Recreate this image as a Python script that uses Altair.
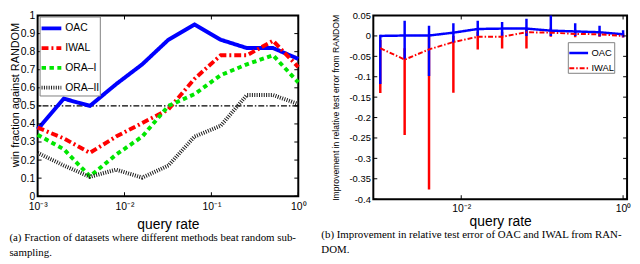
import altair as alt
import pandas as pd

# ---------------- data ----------------
RATES = [0.001, 0.002, 0.004, 0.008, 0.016, 0.032, 0.064, 0.128, 0.256, 0.512, 1.0]

# panel (a): win fraction against RANDOM
METHODS_A = ["OAC", "IWAL", "ORA–I", "ORA–II"]
WIN_OAC = [0.37, 0.54, 0.50, 0.62, 0.73, 0.866, 0.95, 0.866, 0.82, 0.82, 0.76]
WIN_IWAL = [0.38, 0.32, 0.24, 0.33, 0.405, 0.48, 0.65, 0.78, 0.78, 0.86, 0.715]
WIN_ORA1 = [0.34, 0.26, 0.11, 0.23, 0.33, 0.50, 0.565, 0.67, 0.73, 0.78, 0.63]
WIN_ORA2 = [0.24, 0.17, 0.107, 0.147, 0.103, 0.17, 0.33, 0.39, 0.56, 0.56, 0.51]
BASELINE = [0.5]
XTICKS_A = [0.001, 0.01, 0.1, 1.0]
YTICKS_A = [0.0, 0.1, 0.2, 0.3, 0.4, 0.5, 0.6, 0.7, 0.8, 0.9, 1.0]

# panel (b): improvement in relative test error
METHODS_B = ["OAC", "IWAL"]
OAC_MEAN = [0.0, 0.001, 0.001, 0.008, 0.017, 0.018, 0.018, 0.013, 0.011, 0.009, 0.004]
OAC_LO = [-0.118, -0.057, -0.098, -0.016, 0.0, 0.0, 0.0, 0.0, 0.0, -0.001, -0.003]
OAC_HI = [0.003, 0.037, 0.025, 0.031, 0.037, 0.034, 0.042, 0.054, 0.031, 0.025, 0.014]
IWAL_MEAN = [-0.03, -0.058, -0.033, -0.015, -0.002, -0.002, 0.009, 0.008, 0.005, 0.004, 0.0]
IWAL_LO = [-0.14, -0.243, -0.376, -0.139, -0.033, -0.031, -0.031, -0.002, -0.003, -0.002, -0.004]
IWAL_HI = [-0.01, -0.03, 0.0, 0.0, 0.01, 0.01, 0.02, 0.02, 0.015, 0.012, 0.006]
XTICKS_B = [0.01, 1.0]
YTICKS_B = [-0.4, -0.35, -0.3, -0.25, -0.2, -0.15, -0.1, -0.05, 0.0, 0.05]

CAPTION_A = ["(a) Fraction of datasets where different methods beat random sub-", "sampling."]
CAPTION_B = ["(b) Improvement in relative test error of OAC and IWAL from RAN-", "DOM."]

# ---------------- styling ----------------
FONT = "Liberation Sans"
W_A, H_A = 264, 183
W_B, H_B = 257, 186
TK = 4

COLORS_A = ["#0000ff", "#ff0000", "#00e600", "#1a1a1a"]
DASH_A = [[1, 0], [7, 3, 2, 3], [4.5, 3.5], [1, 1.4]]
WIDTH_A = [4, 4, 4, 3]
COLORS_B = ["#0000ff", "#ff0000"]
DASH_B = [[1, 0], [5, 2, 1.5, 2]]

EXP = "'10' + ['\u207b\u00b3','\u207b\u00b2','\u207b\u00b9','\u2070'][round(log(datum.value)/LN10) + 3]"

# ---------------- panel (a) ----------------
rows = []
for name, vals in zip(METHODS_A, [WIN_OAC, WIN_IWAL, WIN_ORA1, WIN_ORA2]):
    for r, v in zip(RATES, vals):
        rows.append({"x": r, "y": v, "m": name})
df_a = pd.DataFrame(rows)

xs_a = alt.Scale(type="log", domain=[0.001, 1.0], nice=False)
ys_a = alt.Scale(domain=[0, 1], nice=False, zero=False)
xax_a = alt.Axis(values=XTICKS_A, labelExpr=EXP, title="query rate", labelFontSize=10.5,
                 labelPadding=5, titleFontSize=14, titlePadding=6, labelFlush=False)
yax_a = alt.Axis(values=YTICKS_A, format="~g", title="win fraction against RANDOM",
                 labelFontSize=10.5, labelPadding=3, titleFontSize=11, titlePadding=0,
                 titleY=80)
X_A = alt.X("x:Q", scale=xs_a, axis=xax_a)
Y_A = alt.Y("y:Q", scale=ys_a, axis=yax_a)

leg_a = alt.Legend(title=None, orient="none", legendX=2, legendY=1, symbolType="stroke",
                   symbolSize=400, symbolStrokeWidth=4, labelFontSize=10.5, labelFont=FONT,
                   labelColor="black", padding=0, rowPadding=-10, labelOffset=2,
                   strokeColor="#808080", fillColor="white")

base_a = alt.Chart(pd.DataFrame({"y": BASELINE})).mark_rule(
    color="black", strokeWidth=1.3, strokeDash=[6, 2, 1.5, 2]).encode(y=Y_A)

lines_a = alt.Chart(df_a).mark_line().encode(
    x=X_A, y=Y_A,
    color=alt.Color("m:N", scale=alt.Scale(domain=METHODS_A, range=COLORS_A), legend=leg_a),
    strokeDash=alt.StrokeDash("m:N", scale=alt.Scale(domain=METHODS_A, range=DASH_A), legend=leg_a),
    strokeWidth=alt.StrokeWidth("m:N", scale=alt.Scale(domain=METHODS_A, range=WIDTH_A), legend=None),
)

xt_a = pd.DataFrame({"x": XTICKS_A})
yt_a = pd.DataFrame({"y": YTICKS_A})
tick = dict(color="black", strokeWidth=1)
ticks_a = [
    alt.Chart(xt_a).mark_rule(**tick).encode(x=X_A, y=alt.value(H_A), y2=alt.value(H_A - TK)),
    alt.Chart(xt_a).mark_rule(**tick).encode(x=X_A, y=alt.value(0), y2=alt.value(TK)),
    alt.Chart(yt_a).mark_rule(**tick).encode(y=Y_A, x=alt.value(0), x2=alt.value(TK)),
    alt.Chart(yt_a).mark_rule(**tick).encode(y=Y_A, x=alt.value(W_A), x2=alt.value(W_A - TK)),
]

panel_a = alt.layer(base_a, lines_a, *ticks_a).properties(
    width=W_A, height=H_A,
    title=alt.Title(CAPTION_A, orient="bottom", anchor="start", frame="bounds",
                    font="Liberation Serif", fontSize=11, fontWeight="normal",
                    color="black", lineHeight=15, offset=1),
)

# ---------------- panel (b) ----------------
rows = []
for name, vals in zip(METHODS_B, [OAC_MEAN, IWAL_MEAN]):
    for r, v in zip(RATES, vals):
        rows.append({"x": r, "y": v, "m": name})
df_b = pd.DataFrame(rows)
bars_oac = pd.DataFrame({"x": RATES, "lo": OAC_LO, "hi": OAC_HI, "m": "OAC"})
bars_iwal = pd.DataFrame({"x": RATES, "lo": IWAL_LO, "hi": IWAL_HI, "m": "IWAL"})

xs_b = alt.Scale(type="log", domain=[0.00082, 1.12], nice=False)
ys_b = alt.Scale(domain=[-0.4, 0.05], nice=False, zero=False)
xax_b = alt.Axis(values=XTICKS_B, labelExpr=EXP, title="query rate", labelFontSize=10.5,
                 labelPadding=4, titleFontSize=14, titlePadding=1, labelFlush=False)
yax_b = alt.Axis(values=YTICKS_B, format="~g", labelExpr="replace(datum.label, '\u2212', '-')",
                 title="Improvement in relative test error from RANDOM",
                 labelFontSize=9.5, labelPadding=3, titleFontSize=8.7, titlePadding=9)
X_B = alt.X("x:Q", scale=xs_b, axis=xax_b)
cs_b = alt.Scale(domain=METHODS_B, range=COLORS_B)
leg_b = alt.Legend(title=None, orient="none", legendX=197, legendY=27, symbolType="stroke",
                   symbolSize=361, symbolStrokeWidth=2.5, labelFontSize=9.5, labelFont=FONT,
                   labelColor="black", padding=0, rowPadding=-11, labelOffset=2,
                   strokeColor="#808080", fillColor="white")

err_iwal = alt.Chart(bars_iwal).mark_rule(strokeWidth=2.5, clip=True).encode(
    x=X_B, y=alt.Y("lo:Q", scale=ys_b, axis=yax_b), y2="hi:Q",
    color=alt.Color("m:N", scale=cs_b, legend=leg_b))
err_oac = alt.Chart(bars_oac).mark_rule(strokeWidth=2.5, clip=True).encode(
    x=X_B, y=alt.Y("lo:Q", scale=ys_b, axis=yax_b), y2="hi:Q",
    color=alt.Color("m:N", scale=cs_b, legend=leg_b))
lines_b = alt.Chart(df_b).mark_line().encode(
    x=X_B, y=alt.Y("y:Q", scale=ys_b, axis=yax_b),
    color=alt.Color("m:N", scale=cs_b, legend=leg_b),
    strokeDash=alt.StrokeDash("m:N", scale=alt.Scale(domain=METHODS_B, range=DASH_B), legend=leg_b),
    strokeWidth=alt.StrokeWidth("m:N", scale=alt.Scale(domain=METHODS_B, range=[2.5, 2]), legend=None),
)

Y_B = alt.Y("y:Q", scale=ys_b, axis=yax_b)
xt_b = pd.DataFrame({"x": XTICKS_B})
yt_b = pd.DataFrame({"y": YTICKS_B})
ticks_b = [
    alt.Chart(xt_b).mark_rule(**tick).encode(x=X_B, y=alt.value(H_B), y2=alt.value(H_B - TK)),
    alt.Chart(xt_b).mark_rule(**tick).encode(x=X_B, y=alt.value(0), y2=alt.value(TK)),
    alt.Chart(yt_b).mark_rule(**tick).encode(y=Y_B, x=alt.value(0), x2=alt.value(TK)),
    alt.Chart(yt_b).mark_rule(**tick).encode(y=Y_B, x=alt.value(W_B), x2=alt.value(W_B - TK)),
]

panel_b = alt.layer(err_iwal, err_oac, lines_b, *ticks_b).properties(
    width=W_B, height=H_B,
    title=alt.Title(CAPTION_B, orient="bottom", anchor="start", frame="bounds",
                    font="Liberation Serif", fontSize=11, fontWeight="normal",
                    color="black", lineHeight=15, offset=1, dx=-10),
)

chart = alt.hconcat(panel_a, panel_b, spacing=76, bounds="flush").resolve_scale(
    x="independent", y="independent", color="independent", strokeDash="independent",
    strokeWidth="independent",
).resolve_legend(color="independent", strokeDash="independent").configure(
    padding=0, background="white"
).configure_view(stroke="black", strokeWidth=2).configure_axis(
    labelFont=FONT, titleFont=FONT, labelColor="black", titleColor="black",
    titleFontWeight="normal", grid=False, ticks=False, domain=False,
)

chart.save("out.html", embed_options={"renderer": "svg", "actions": False})
